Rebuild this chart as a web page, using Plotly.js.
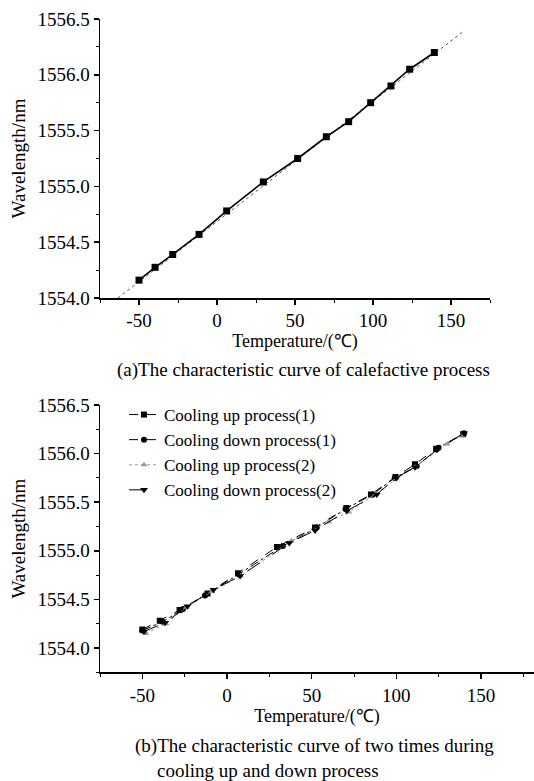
<!DOCTYPE html>
<html>
<head>
<meta charset="utf-8">
<script src="https://cdn.plot.ly/plotly-3.0.1.min.js"></script>
<style>html,body{margin:0;padding:0;background:#fff;}#chart{width:534px;height:781px;}</style>
</head>
<body>
<div id="chart"></div>
<script>
// ---- Chart (a): calefactive process ----
var tempA = [-50, -39.7, -28.4, -11.5, 6.2, 29.7, 51.7, 70.1, 84.4, 98.5, 111.5, 123.5, 139.3];
var waveA = [1554.16, 1554.275, 1554.39, 1554.57, 1554.78, 1555.04, 1555.25, 1555.445, 1555.58, 1555.75, 1555.90, 1556.05, 1556.20];
var fitTemp = [-63.5, 158.5];
var fitWave = [1554.0, 1556.395];

// ---- Chart (b): two cycles of cooling up / down ----
var tempUp1 = [-50, -39.7, -28, -11.5, 6.5, 29.5, 52, 70.5, 85, 99.5, 111, 123.5, 139.5];
var waveUp1 = [1554.19, 1554.28, 1554.39, 1554.56, 1554.77, 1555.04, 1555.24, 1555.44, 1555.58, 1555.76, 1555.89, 1556.05, 1556.20];
var tempDown1 = [-50, -38, -26, -13, 7, 33, 53, 70, 86, 99, 112, 125, 140];
var waveDown1 = [1554.18, 1554.27, 1554.40, 1554.54, 1554.76, 1555.05, 1555.24, 1555.43, 1555.58, 1555.75, 1555.87, 1556.06, 1556.21];
var tempUp2 = [-48, -36, -24, -9, 8, 38, 60, 72, 88, 100, 111, 130, 139];
var waveUp2 = [1554.15, 1554.25, 1554.42, 1554.58, 1554.74, 1555.10, 1555.30, 1555.40, 1555.59, 1555.74, 1555.86, 1556.10, 1556.19];
var tempDown2 = [-49, -36.6, -23.4, -8, 7.7, 36.8, 52, 70.7, 88.4, 100, 111, 124, 140];
var waveDown2 = [1554.17, 1554.26, 1554.43, 1554.60, 1554.74, 1555.08, 1555.21, 1555.41, 1555.58, 1555.75, 1555.86, 1556.04, 1556.21];

var seriesNames = ["Cooling up process(1)", "Cooling down process(1)", "Cooling up process(2)", "Cooling down process(2)"];
var xTickVals = [-50, 0, 50, 100, 150];
var xTickText = ["-50", "0", "50", "100", "150"];
var yTickVals = [1554.0, 1554.5, 1555.0, 1555.5, 1556.0, 1556.5];
var yTickText = ["1554.0", "1554.5", "1555.0", "1555.5", "1556.0", "1556.5"];

var serif = "Liberation Serif, Times New Roman, serif";

var traces = [
  {x: fitTemp, y: fitWave, xaxis: "x", yaxis: "y", mode: "lines", showlegend: false,
   line: {color: "#555", width: 1, dash: "dot"}, hoverinfo: "skip"},
  {x: tempA, y: waveA, xaxis: "x", yaxis: "y", mode: "lines+markers", showlegend: false,
   line: {color: "#000", width: 1.6}, marker: {symbol: "square", size: 7, color: "#000"}},
  {x: tempUp1, y: waveUp1, xaxis: "x2", yaxis: "y2", name: seriesNames[0], mode: "lines+markers",
   line: {color: "#000", width: 1, dash: "dash"}, marker: {symbol: "square", size: 6, color: "#000"}},
  {x: tempDown1, y: waveDown1, xaxis: "x2", yaxis: "y2", name: seriesNames[1], mode: "lines+markers",
   line: {color: "#000", width: 1, dash: "dashdot"}, marker: {symbol: "circle", size: 6, color: "#000"}},
  {x: tempUp2, y: waveUp2, xaxis: "x2", yaxis: "y2", name: seriesNames[2], mode: "lines+markers",
   line: {color: "#999", width: 1, dash: "dot"}, marker: {symbol: "triangle-up", size: 6, color: "#999"}},
  {x: tempDown2, y: waveDown2, xaxis: "x2", yaxis: "y2", name: seriesNames[3], mode: "lines+markers",
   line: {color: "#000", width: 1, dash: "longdash"}, marker: {symbol: "triangle-down", size: 7, color: "#000"}}
];

function xAxisDef(range, domain, anchor) {
  return {
    domain: domain, range: range, anchor: anchor, showgrid: false, zeroline: false,
    showline: true, linecolor: "#000", linewidth: 1.5, mirror: false,
    ticks: "outside", ticklen: 5, tickwidth: 1.5, tickcolor: "#000",
    tickvals: xTickVals, ticktext: xTickText, tickfont: {family: serif, size: 19, color: "#000"},
    minor: {dtick: 25, tick0: 0, ticks: "outside", ticklen: 3, tickwidth: 1, tickcolor: "#000", showgrid: false},
    title: {text: "Temperature/(℃)", font: {family: serif, size: 18, color: "#000"}, standoff: 4},
    automargin: false, fixedrange: true
  };
}
function yAxisDef(range, domain, anchor) {
  return {
    domain: domain, range: range, anchor: anchor, showgrid: false, zeroline: false,
    showline: true, linecolor: "#000", linewidth: 1.5, mirror: false,
    ticks: "outside", ticklen: 5, tickwidth: 1.5, tickcolor: "#000",
    tickvals: yTickVals, ticktext: yTickText, tickfont: {family: serif, size: 19, color: "#000"},
    minor: {dtick: 0.25, tick0: 1554, ticks: "outside", ticklen: 3, tickwidth: 1, tickcolor: "#000", showgrid: false},
    title: {text: "Wavelength/nm", font: {family: serif, size: 19, color: "#000"}, standoff: 7},
    automargin: false, fixedrange: true
  };
}

var layout = {
  width: 534, height: 781,
  margin: {l: 0, r: 0, t: 0, b: 0},
  paper_bgcolor: "#fff", plot_bgcolor: "rgba(0,0,0,0)",
  font: {family: serif, color: "#000"},
  xaxis: xAxisDef([-75, 175], [100/534, 490/534], "y"),
  yaxis: yAxisDef([1554.0, 1556.5], [1 - 298/781, 1 - 19/781], "x"),
  xaxis2: xAxisDef([-75, 181.3], [100/534, 1], "y2"),
  yaxis2: yAxisDef([1553.75, 1556.5], [1 - 672.3/781, 1 - 405/781], "x2"),
  showlegend: true,
  legend: {x: 124/534, y: 1 - 397/781, xanchor: "left", yanchor: "top",
           bgcolor: "rgba(0,0,0,0)", borderwidth: 0,
           font: {family: serif, size: 17, color: "#000"}, itemwidth: 30, tracegroupgap: 0},
  annotations: [
    {text: "(a)The characteristic curve of calefactive process", xref: "paper", yref: "paper",
     x: 303/534, y: 1 - 370/781, xanchor: "center", yanchor: "middle", showarrow: false,
     font: {family: serif, size: 19, color: "#000"}},
    {text: "(b)The characteristic curve of two times during", xref: "paper", yref: "paper",
     x: 314/534, y: 1 - 746/781, xanchor: "center", yanchor: "middle", showarrow: false,
     font: {family: serif, size: 19, color: "#000"}},
    {text: "cooling up and down process", xref: "paper", yref: "paper",
     x: 268/534, y: 1 - 770/781, xanchor: "center", yanchor: "middle", showarrow: false,
     font: {family: serif, size: 19, color: "#000"}}
  ]
};

Plotly.newPlot("chart", traces, layout, {displayModeBar: false, staticPlot: true});
</script>
</body>
</html>
